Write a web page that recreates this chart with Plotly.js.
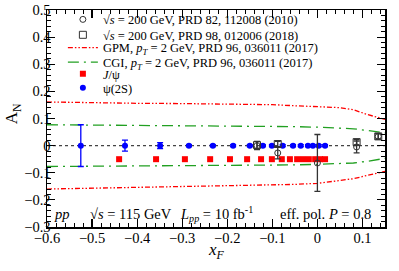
<!DOCTYPE html>
<html>
<head>
<meta charset="utf-8">
<script src="https://cdn.plot.ly/plotly-3.0.1.min.js"></script>
<style>html,body{margin:0;padding:0;background:#fff;}#chart{width:399px;height:271px;}</style>
</head>
<body>
<div id="chart"></div>
<script>
// ---- data ----
var curveX      = [-0.6, -0.5, -0.4, -0.3, -0.2, -0.1, -0.05, 0.0, 0.05, 0.08, 0.11, 0.15];
var gpmUpper    = [0.161, 0.158, 0.156, 0.155, 0.154, 0.151, 0.147, 0.144, 0.140, 0.132, 0.115, 0.097];
var gpmLower    = [-0.160, -0.157, -0.154, -0.151, -0.149, -0.146, -0.143, -0.139, -0.129, -0.122, -0.110, -0.095];
var cgiUpper    = [0.077, 0.076, 0.076, 0.075, 0.074, 0.072, 0.070, 0.068, 0.065, 0.062, 0.056, 0.047];
var cgiLower    = [-0.077, -0.076, -0.076, -0.075, -0.074, -0.073, -0.071, -0.069, -0.066, -0.064, -0.058, -0.047];

var psi2sX   = [-0.525, -0.427, -0.349, -0.285, -0.232, -0.187, -0.150, -0.121, -0.101, -0.077, -0.054, -0.037, -0.021, -0.010, 0.003, 0.017];
var psi2sY   = [0, 0, 0, 0, 0, 0, 0, 0, 0, 0, 0, 0, 0, 0, 0, 0];
var psi2sErr = [0.077, 0.020, 0.011, 0.004, 0.004, 0.004, 0.004, 0.004, 0.004, 0.004, 0.004, 0.004, 0.004, 0.004, 0.004, 0.004];

var jpsiX = [-0.440, -0.358, -0.294, -0.238, -0.194, -0.156, -0.125, -0.101, -0.079, -0.061, -0.045, -0.032, -0.019, -0.005, 0.006, 0.017];
var jpsiY = [-0.05, -0.05, -0.05, -0.05, -0.05, -0.05, -0.05, -0.05, -0.05, -0.05, -0.05, -0.05, -0.05, -0.05, -0.05, -0.05];

var prd82X   = [-0.134, -0.088, 0.0, 0.087, 0.135];
var prd82Y   = [0.0, -0.027, -0.064, -0.005, 0.034];
var prd82Err = [0.015, 0.022, 0.105, 0.022, 0.010];

var prd98X   = [-0.134, -0.088, 0.087, 0.135];
var prd98Y   = [0.002, 0.006, 0.013, 0.034];
var prd98Err = [0.014, 0.010, 0.010, 0.010];

var legendNames = [
  '√<i>s</i> = 200 GeV, PRD 82, 112008 (2010)',
  '√<i>s</i> = 200 GeV, PRD 98, 012006 (2018)',
  'GPM, <i>p</i><sub><i>T</i></sub> = 2 GeV, PRD 96, 036011 (2017)',
  'CGI, <i>p</i><sub><i>T</i></sub> = 2 GeV, PRD 96, 036011 (2017)',
  '<i>J</i>/ψ',
  'ψ(2S)'
];

// ---- styling ----
var SERIF = 'Liberation Serif';
var RED = '#ff0000', GREEN = '#22a022', BLUE = '#0000ff', BLK = '#333333';
var gpmDash = '5px,2px,1.5px,2px,1.5px,2px';
var cgiDash = '11px,5px,2px,5px';

var traces = [
  {x: curveX, y: gpmUpper, mode: 'lines', line: {color: RED, width: 1.3, dash: gpmDash}, name: legendNames[2], legend: 'legend3'},
  {x: curveX, y: gpmLower, mode: 'lines', line: {color: RED, width: 1.3, dash: gpmDash}, showlegend: false},
  {x: curveX, y: cgiUpper, mode: 'lines', line: {color: GREEN, width: 1.3, dash: cgiDash}, name: legendNames[3], legend: 'legend4'},
  {x: curveX, y: cgiLower, mode: 'lines', line: {color: GREEN, width: 1.3, dash: cgiDash}, showlegend: false},
  {x: psi2sX, y: psi2sY, mode: 'markers', name: legendNames[5], legend: 'legend6',
   marker: {symbol: 'circle', size: 6, color: BLUE},
   error_y: {type: 'data', array: psi2sErr, visible: true, color: BLUE, thickness: 1.3, width: 3}},
  {x: jpsiX, y: jpsiY, mode: 'markers', name: legendNames[4], legend: 'legend5',
   marker: {symbol: 'square', size: 6, color: RED}},
  {x: prd82X, y: prd82Y, mode: 'markers', name: legendNames[0], legend: 'legend',
   marker: {symbol: 'circle-open', size: 6, color: BLK, line: {width: 1, color: BLK}},
   error_y: {type: 'data', array: prd82Err, visible: true, color: BLK, thickness: 1.3, width: 3}},
  {x: prd98X, y: prd98Y, mode: 'markers', name: legendNames[1], legend: 'legend2',
   marker: {symbol: 'square-open', size: 7, color: BLK, line: {width: 1, color: BLK}},
   error_y: {type: 'data', array: prd98Err, visible: true, color: BLK, thickness: 1.3, width: 3}}
];

function leg(yPaper) {
  return {x: 0.047, xanchor: 'left', y: yPaper, yanchor: 'middle', bgcolor: 'rgba(0,0,0,0)',
          borderwidth: 0, font: {family: SERIF, size: 12.5, color: '#000'}, tracegroupgap: 0};
}

var axisCommon = {
  showline: true, linecolor: '#000', linewidth: 1.5, mirror: 'allticks',
  ticks: 'inside', ticklen: 8, tickwidth: 1.2, tickcolor: '#000',
  showgrid: false, zeroline: false,
  tickfont: {family: SERIF, size: 14.5, color: '#000'},
  minor: {ticks: 'inside', ticklen: 4, tickwidth: 1, tickcolor: '#000', showgrid: false}
};

var layout = {
  width: 399, height: 271,
  font: {family: SERIF, size: 14, color: '#000'},
  margin: {l: 47, r: 14, t: 5, b: 44},
  paper_bgcolor: '#fff', plot_bgcolor: '#fff',
  showlegend: true,
  xaxis: Object.assign({}, axisCommon, {range: [-0.6, 0.15], dtick: 0.1, tick0: 0, ticklabelstandoff: -3,
          minor: Object.assign({}, axisCommon.minor, {dtick: 0.02})}),
  yaxis: Object.assign({}, axisCommon, {range: [-0.3, 0.5], dtick: 0.1, tick0: 0, ticklabelstandoff: -8,
          minor: Object.assign({}, axisCommon.minor, {dtick: 0.02})}),
  legend: leg(0.955), legend2: leg(0.884), legend3: leg(0.825),
  legend4: leg(0.758), legend5: leg(0.704), legend6: leg(0.640),
  shapes: [
    {type: 'line', xref: 'paper', yref: 'y', x0: 0, x1: 1, y0: 0, y1: 0,
     line: {color: '#444', width: 1.3, dash: 'dot'}, layer: 'below'}
  ],
  annotations: [
    {text: '<i>pp</i>', xref: 'paper', yref: 'paper', x: 0.015, y: 0.058, xanchor: 'left', yanchor: 'middle', showarrow: false, font: {family: SERIF, size: 14.5, color: '#000'}},
    {text: '√<i>s</i> = 115 GeV', xref: 'paper', yref: 'paper', x: 0.121, y: 0.058, xanchor: 'left', yanchor: 'middle', showarrow: false, font: {family: SERIF, size: 14.5, color: '#000'}},
    {text: '<i>L</i><sub><i>pp</i></sub> = 10 fb<sup>-1</sup>', xref: 'paper', yref: 'paper', x: 0.388, y: 0.058, xanchor: 'left', yanchor: 'middle', showarrow: false, font: {family: SERIF, size: 14.5, color: '#000'}},
    {text: 'eff. pol. <i>P</i> = 0.8', xref: 'paper', yref: 'paper', x: 0.683, y: 0.058, xanchor: 'left', yanchor: 'middle', showarrow: false, font: {family: SERIF, size: 14.5, color: '#000'}},
    {text: '<i>x</i><sub><i>F</i></sub>', xref: 'paper', yref: 'paper', x: 0.5, y: -0.11, xanchor: 'center', yanchor: 'middle', showarrow: false, font: {family: SERIF, size: 17, color: '#000'}},
    {text: 'A<sub>N</sub>', xref: 'paper', yref: 'paper', x: -0.10, y: 0.52, xanchor: 'center', yanchor: 'middle', textangle: -90, showarrow: false, font: {family: SERIF, size: 17, color: '#000'}}
  ]
};

Plotly.newPlot('chart', traces, layout, {staticPlot: true, displayModeBar: false});
</script>
</body>
</html>
